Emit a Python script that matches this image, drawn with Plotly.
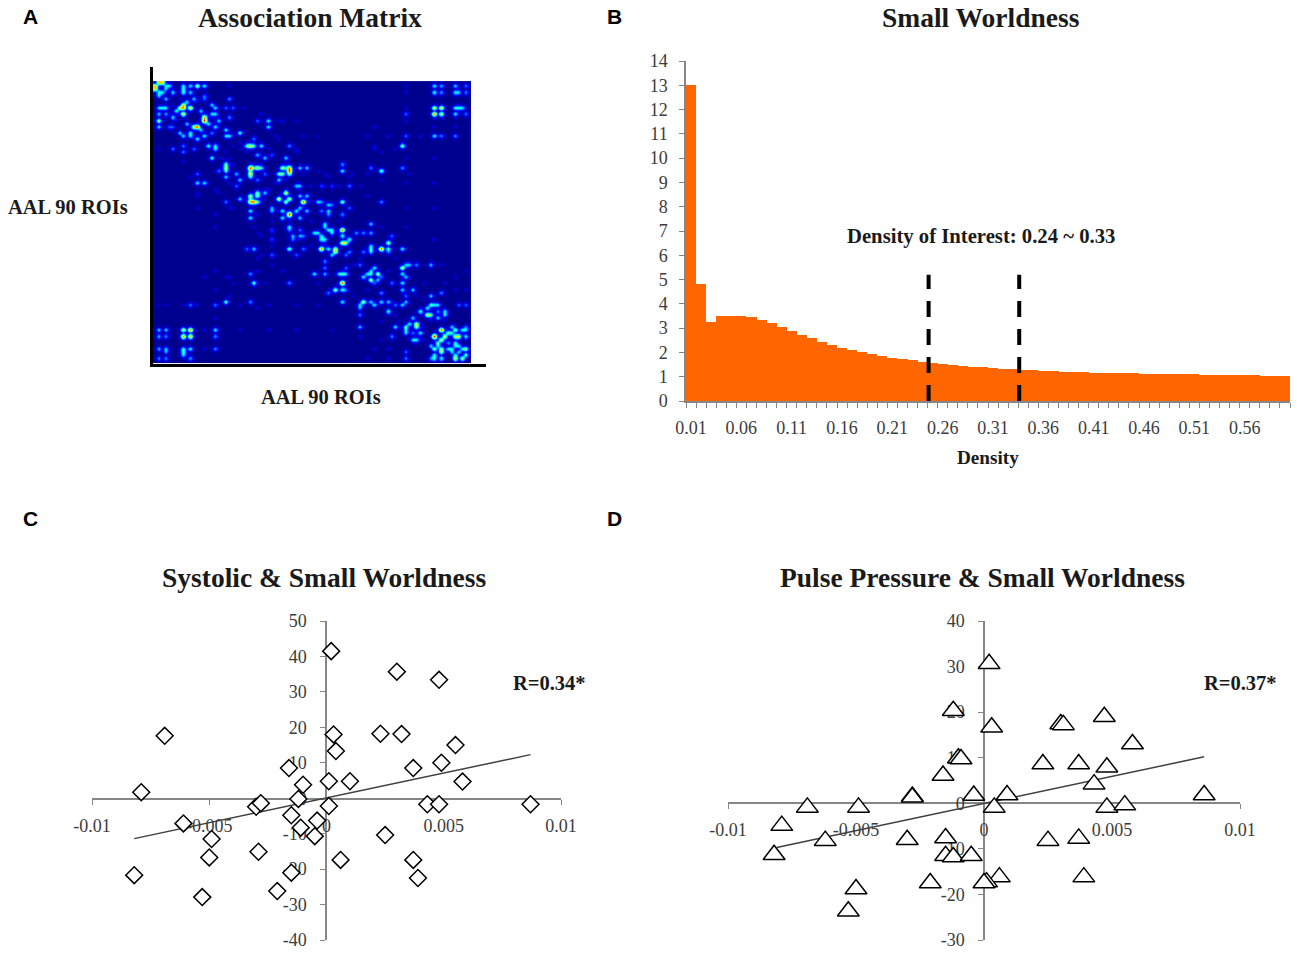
import plotly.graph_objects as go

W = 1300
H = 957

# panel A, association matrix: (row, col, value), mirrored below the diagonal
matrix_size = 90
hot_cells = [
    (0, 1, .7), (0, 2, .65), (1, 3, .42), (1, 4, .4), (2, 3, .4), (3, 5, .4), (1, 8, .42), (3, 8, .45),
    (1, 10, .4), (3, 10, .35), (1, 12, .65), (1, 14, .42), (2, 8, .42), (5, 11, .4), (7, 8, .7), (8, 8, .8),
    (6, 9, .42), (8, 10, .75), (4, 14, .25), (5, 14, .25), (11, 14, .72), (12, 14, .88), (9, 13, .4),
    (13, 15, .4), (12, 18, .42), (14, 17, .42), (7, 16, .42), (8, 17, .4), (10, 16, .42), (10, 17, .4),
    (5, 21, .3), (8, 20, .28), (8, 22, .28), (16, 16, .3), (15, 20, .45), (16, 24, .5), (17, 21, .4),
    (12, 32, .42), (14, 32, .4), (12, 29, .25), (20, 27, .65), (20, 26, .55), (20, 28, .5), (20, 30, .42),
    (17, 20, .42), (11, 21, .28), (18, 28, .28), (27, 27, .9), (27, 28, .45), (27, 29, .65), (27, 30, .42),
    (24, 31, .42), (23, 29, .35), (23, 33, .25), (24, 37, .42), (27, 37, .42), (28, 38, .88), (27, 38, .78),
    (27, 41, .42), (27, 43, .42), (29, 36, .55), (29, 35, .55), (29, 31, .28), (28, 53, .42), (28, 64, .55),
    (27, 61, .3), (33, 40, .38), (33, 41, .38), (33, 55, .28), (33, 47, .22), (33, 50, .22), (27, 36, .6),
    (31, 35, .42), (29, 38, .55), (20, 38, .3), (35, 37, .78), (37, 38, .65), (36, 41, .42), (36, 43, .42),
    (38, 42, .88), (38, 53, .55), (40, 41, .42), (41, 43, .42), (38, 47, .3), (39, 49, .38), (41, 47, .28),
    (42, 49, .28), (42, 53, .28), (40, 55, .25), (38, 46, .42), (41, 49, .38), (39, 50, .28), (45, 48, .42),
    (47, 50, .42), (46, 48, .42), (47, 49, .42), (48, 50, .42), (47, 53, .85), (45, 61, .42), (48, 59, .3),
    (48, 61, .38), (48, 57, .3), (51, 54, .65), (50, 55, .42), (51, 53, .68), (26, 53, .28), (49, 53, .42),
    (52, 61, .42), (53, 61, .5), (53, 64, .9), (51, 66, .6), (53, 70, .42), (54, 59, .28), (54, 66, .28),
    (54, 55, .3), (20, 70, .55), (27, 70, .3), (59, 70, .65), (58, 72, .38), (58, 74, .3), (58, 78, .4),
    (62, 71, .42), (61, 70, .42), (54, 61, .42), (38, 64, .3), (60, 61, .42), (59, 62, .42), (61, 61, .45),
    (61, 63, .68), (63, 63, .4), (58, 58, .3), (64, 67, .3), (62, 64, .25), (53, 66, .45), (49, 67, .28),
    (10, 71, .28), (17, 71, .28), (58, 71, .4), (64, 70, .42), (66, 73, .42), (66, 70, .38), (70, 71, .4),
    (68, 71, .28), (67, 81, .3), (72, 77, .42), (71, 78, .55), (71, 79, .42), (74, 77, .65), (75, 80, .42),
    (73, 82, .42), (71, 86, .28), (71, 88, .28), (73, 75, .42), (74, 78, .55), (68, 78, .42), (71, 80, .42),
    (74, 82, .42), (73, 80, .28), (79, 81, .88), (81, 82, .68), (80, 83, .55), (80, 84, .42), (79, 85, .55),
    (79, 88, .42), (81, 85, .6), (81, 88, .42), (83, 83, .3), (78, 84, .42), (79, 87, .42), (81, 86, .62),
    (83, 85, .42), (84, 85, .42), (84, 86, .42), (86, 86, .42), (85, 87, .42), (85, 88, .65), (87, 88, .55),
    (78, 88, .3), (1, 79, .42), (1, 81, .35), (3, 79, .42), (3, 81, .3), (1, 85, .38), (3, 85, .4),
    (3, 86, .35), (8, 79, .68), (8, 81, .75), (10, 79, .85), (10, 81, .68), (8, 85, .45), (8, 86, .45),
    (10, 85, .42), (10, 88, .3), (17, 79, .42), (17, 81, .28), (1, 88, .3), (3, 88, .3), (8, 87, .4),
    (17, 85, .3),
]
faint_cells = [
    (25, 8), (30, 10), (36, 12), (40, 12), (22, 17), (28, 17), (34, 17), (42, 17), (46, 17), (60, 17),
    (66, 17), (75, 17), (24, 21), (32, 21), (40, 21), (62, 21), (68, 21), (31, 29), (42, 29), (48, 29),
    (56, 29), (60, 29), (72, 29), (44, 33), (48, 33), (52, 33), (58, 33), (12, 35), (18, 35), (22, 40),
    (28, 46), (30, 49), (30, 55), (14, 62), (20, 62), (36, 60), (22, 64), (31, 64), (24, 71), (32, 71),
    (40, 71), (46, 71), (24, 79), (32, 79), (40, 79), (50, 79), (58, 81), (64, 82), (66, 85), (60, 88),
    (66, 88), (62, 85), (46, 64), (56, 68), (60, 66), (48, 52), (44, 44), (44, 52), (38, 44), (56, 58),
    (64, 76), (68, 74), (69, 76), (76, 78), (76, 82), (34, 32), (37, 31), (19, 24), (22, 26), (10, 13),
    (5, 7), (6, 12), (20, 22), (1, 21), (1, 71), (3, 71), (8, 71), (12, 71), (14, 79), (14, 85),
]

# panel B, small worldness per density step
density = [
    .01, .02, .03, .04, .05, .06, .07, .08, .09, .10, .11, .12, .13, .14, .15, .16, .17, .18, .19, .20,
    .21, .22, .23, .24, .25, .26, .27, .28, .29, .30, .31, .32, .33, .34, .35, .36, .37, .38, .39, .40,
    .41, .42, .43, .44, .45, .46, .47, .48, .49, .50, .51, .52, .53, .54, .55, .56, .57, .58, .59, .60,
]
small_worldness = [
    13.0, 4.8, 3.25, 3.5, 3.52, 3.5, 3.45, 3.33, 3.2, 3.05, 2.9, 2.72, 2.58, 2.45, 2.32, 2.2, 2.1, 2.0, 1.92, 1.85,
    1.78, 1.73, 1.67, 1.62, 1.57, 1.53, 1.49, 1.45, 1.42, 1.38, 1.35, 1.33, 1.3, 1.28, 1.26, 1.24, 1.22, 1.21, 1.2, 1.18,
    1.17, 1.16, 1.15, 1.15, 1.14, 1.13, 1.12, 1.12, 1.11, 1.1, 1.1, 1.09, 1.08, 1.08, 1.07, 1.07, 1.06, 1.05, 1.05, 1.04,
]
density_ticks = [.01, .06, .11, .16, .21, .26, .31, .36, .41, .46, .51, .56]
density_labels = ["0.01", "0.06", "0.11", "0.16", "0.21", "0.26", "0.31", "0.36", "0.41", "0.46", "0.51", "0.56"]
interest_low = 0.246
interest_high = 0.336
interest_top = 5.2

# panel C, systolic
sys_x = [
    .0002, .003, .0048, -.0069, .0003, .0023, .0032, .0004, .0055, -.0016, .0037, .0049, -.001, .0001,
    .001, .0058, -.0079, -.0012, -.003, -.0028, .0001, .0043, .0048, .0087, -.0015, -.0004, -.0011,
    -.0061, -.0005, -.0049, .0025, -.005, -.0029, .0006, .0037, -.0082, -.0015, .0039, -.0021, -.0053,
]
sys_y = [
    41.5, 35.7, 33.4, 17.6, 18, 18.2, 18.1, 13.3, 15, 8.5, 8.5, 10, 3.8, 4.8,
    4.8, 4.7, 1.7, -.2, -2.4, -1.4, -2.2, -1.7, -1.7, -1.7, -4.8, -6.3, -8.3,
    -7.1, -10.7, -11.5, -10.4, -16.7, -15.1, -17.4, -17.4, -21.7, -21, -22.5, -26.2, -27.9,
]
sys_fit_x = [-.0082, .0087]
sys_fit_y = [-11.4, 12.3]

# panel D, pulse pressure
pp_x = [
    .0002, -.0012, .0003, .0047, .003, .0031, .0058, -.001, -.0009, .0023, .0037, .0048, -.0016, .0043,
    -.0004, .0009, .0086, -.0028, -.0028, -.0069, -.0049, .0004, .0048, .0055, -.0079, -.0062, -.003,
    -.0015, .0025, .0037, -.0082, -.0015, -.0012, -.0005, .0006, .0001, 0, .0039, -.0021, -.005, -.0053,
]
pp_y = [
    30.6, 20.3, 16.7, 19, 17.4, 17.2, 13, 9.9, 9.7, 8.6, 8.6, 7.9, 6.1, 4.2,
    1.7, 1.8, 1.8, 1.5, 1.3, -.9, -.9, -.9, -.9, -.4, -4.9, -8.2, -8,
    -7.6, -8.2, -7.7, -11.3, -11.5, -11.8, -11.5, -16.2, -17.3, -17.5, -16.2, -17.5, -18.8, -23.7,
]
pp_fit_x = [-.0081, .0086]
pp_fit_y = [-9.7, 10.2]

scatter_x_ticks = [-.01, -.005, 0, .005, .01]
scatter_x_labels = ["-0.01", "-0.005", "0", "0.005", "0.01"]
sys_y_ticks = [50, 40, 30, 20, 10, 0, -10, -20, -30, -40]
sys_y_labels = ["50", "40", "30", "20", "10", "0", "-10", "-20", "-30", "-40"]
pp_y_ticks = [40, 30, 20, 10, 0, -10, -20, -30]
pp_y_labels = ["40", "30", "20", "10", "0", "-10", "-20", "-30"]

SERIF = "Liberation Serif"
TICK = "#3c3c3c"
AXIS = "#868686"
JET = [[0, "#00008f"], [.125, "#0000ff"], [.375, "#00ffff"], [.625, "#ffff00"], [.875, "#ff0000"], [1, "#800000"]]


def dom_x(a, b):
    return [a / W, b / W]


def dom_y(top, bottom):
    return [1 - bottom / H, 1 - top / H]


z = [[0.0] * matrix_size for _ in range(matrix_size)]
for r, c in faint_cells:
    z[r][c] = z[c][r] = 0.1
# the published image is blurred, so each spot leaks a little into its neighbours
for r, c, v in hot_cells:
    for rr, cc in [(r - 1, c), (r + 1, c), (r, c - 1), (r, c + 1)]:
        if 0 <= rr < matrix_size and 0 <= cc < matrix_size:
            z[rr][cc] = max(z[rr][cc], v * 0.18)
            z[cc][rr] = max(z[cc][rr], v * 0.18)
for r, c, v in hot_cells:
    z[r][c] = z[c][r] = v

fig = go.Figure()

fig.add_trace(go.Heatmap(z=z, zmin=0, zmax=1, colorscale=JET, showscale=False, zsmooth="best",
                         xaxis="x", yaxis="y", hoverinfo="skip"))

fig.add_trace(go.Bar(x=density, y=small_worldness, width=0.0101, marker=dict(color="#ff6600", line_width=0),
                     xaxis="x2", yaxis="y2"))
for d in [interest_low, interest_high]:
    fig.add_trace(go.Scatter(x=[d, d], y=[0, interest_top], mode="lines", xaxis="x2", yaxis="y2",
                             line=dict(color="black", width=4, dash="16px,12px")))

fig.add_trace(go.Scatter(x=sys_fit_x, y=sys_fit_y, mode="lines", xaxis="x3", yaxis="y3",
                         line=dict(color="#404040", width=1.5)))
fig.add_trace(go.Scatter(x=sys_x, y=sys_y, mode="markers", xaxis="x3", yaxis="y3",
                         marker=dict(symbol="diamond", size=13, color="white", line=dict(color="black", width=1.5))))

fig.add_trace(go.Scatter(x=pp_fit_x, y=pp_fit_y, mode="lines", xaxis="x4", yaxis="y4",
                         line=dict(color="#404040", width=1.5)))
fig.add_trace(go.Scatter(x=pp_x, y=pp_y, mode="markers", xaxis="x4", yaxis="y4",
                         marker=dict(symbol="triangle-up", size=19, color="white",
                                     line=dict(color="black", width=1.5))))

tick_font = dict(family=SERIF, size=18, color=TICK)


def scatter_x(left, right, zero_px):
    return dict(domain=dom_x(left, right), range=[-.01, .01], anchor="free", position=1 - zero_px / H,
                side="bottom", tickmode="array", tickvals=scatter_x_ticks, ticktext=scatter_x_labels,
                showline=True, linecolor=AXIS, linewidth=1.5, ticks="outside", ticklen=5, tickcolor=AXIS,
                showgrid=False, zeroline=False, tickfont=tick_font, ticklabelstandoff=6, layer="below traces")


def scatter_y(top, bottom, zero_px, low, high, ticks, labels):
    return dict(domain=dom_y(top, bottom), range=[low, high], anchor="free", position=zero_px / W,
                side="left", tickmode="array", tickvals=ticks, ticktext=labels,
                showline=True, linecolor=AXIS, linewidth=1.5, ticks="outside", ticklen=5, tickcolor=AXIS,
                showgrid=False, zeroline=False, tickfont=tick_font, ticklabelstandoff=10, layer="below traces")


fig.update_layout(
    template="none",
    width=W,
    height=H,
    margin=dict(l=0, r=0, t=0, b=0),
    plot_bgcolor="white",
    paper_bgcolor="white",
    showlegend=False,
    bargap=0,
    xaxis=dict(domain=dom_x(153, 486), range=[-.5, 93.75], showline=True, linecolor="black", linewidth=3,
               showticklabels=False, ticks="", showgrid=False, zeroline=False),
    yaxis=dict(domain=dom_y(67, 364), range=[89.9, -5.0], showline=True, linecolor="black", linewidth=3,
               showticklabels=False, ticks="", showgrid=False, zeroline=False),
    xaxis2=dict(domain=dom_x(686, 1290), range=[.005, .605], anchor="y2", tickmode="array",
                tickvals=density_ticks, ticktext=density_labels,
                showline=True, linecolor=AXIS, linewidth=1.5, ticks="outside", ticklen=0, tickcolor=AXIS,
                minor=dict(tick0=.005, dtick=.01, ticks="outside", ticklen=5, tickcolor=AXIS, showgrid=False),
                showgrid=False, zeroline=False, tickfont=tick_font, ticklabelstandoff=10),
    yaxis2=dict(domain=dom_y(61, 401), range=[0, 14], anchor="x2", dtick=1, tick0=0,
                showline=True, linecolor=AXIS, linewidth=1.5, ticks="outside", ticklen=5, tickcolor=AXIS,
                showgrid=False, zeroline=False, tickfont=tick_font, ticklabelstandoff=8),
    xaxis3=scatter_x(92, 561, 799),
    yaxis3=scatter_y(621, 940, 326, -40, 50, sys_y_ticks, sys_y_labels),
    xaxis4=scatter_x(728, 1240, 803),
    yaxis4=scatter_y(621, 940, 984, -30, 40, pp_y_ticks, pp_y_labels),
)


def label(text, x, y, size, family=SERIF, bold=True, color="#1a1a1a"):
    fig.add_annotation(text="<b>%s</b>" % text if bold else text, x=x / W, y=1 - y / H, xref="paper", yref="paper",
                       showarrow=False, xanchor="center", yanchor="middle",
                       font=dict(family=family, size=size, color=color))


label("A", 30, 16, 21, "Liberation Sans", color="black")
label("B", 614, 16, 21, "Liberation Sans", color="black")
label("C", 30, 518, 21, "Liberation Sans", color="black")
label("D", 614, 518, 21, "Liberation Sans", color="black")

label("Association Matrix", 310, 18, 27.5)
label("Small Worldness", 981, 18, 27.5)
label("Systolic &amp; Small Worldness", 324, 577, 27.5)
label("Pulse Pressure &amp; Small Worldness", 982, 577, 27.5)

label("AAL 90 ROIs", 68, 207, 20.5)
label("AAL 90 ROIs", 321, 397, 20.5)
label("Density of Interest: 0.24 ~ 0.33", 981, 236, 20.7)
label("Density", 988, 457, 19.2)
label("R=0.34*", 549, 683, 20.5)
label("R=0.37*", 1240, 683, 20.5)

fig.write_html("out.html", config=dict(displayModeBar=False), post_script="document.body.style.margin='0';")
